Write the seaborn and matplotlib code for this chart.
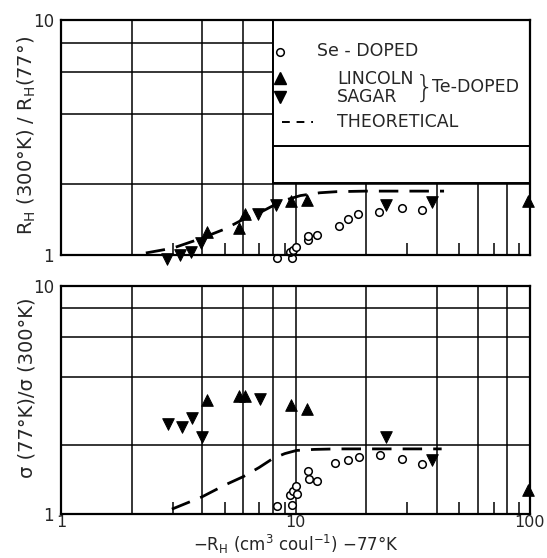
import numpy as np
import pandas as pd
import matplotlib
matplotlib.use("Agg")
import matplotlib.pyplot as plt
from matplotlib.patches import Rectangle
import seaborn as sns

# ---------------- data ----------------
se_x_top = [8.37, 9.63, 9.5, 9.77, 10.05, 11.3, 11.3, 12.4, 15.3, 16.8, 18.5, 22.8, 28.4, 34.5]
se_y_top = [0.97, 0.97, 1.03, 1.05, 1.08, 1.16, 1.20, 1.22, 1.33, 1.42, 1.49, 1.53, 1.58, 1.56]
se_x_bot = [8.37, 9.63, 9.5, 9.77, 10.1, 10.05, 11.3, 11.4, 12.4, 14.8, 16.7, 18.6, 22.9, 28.5, 34.7]
se_y_bot = [1.08, 1.09, 1.21, 1.26, 1.23, 1.33, 1.54, 1.43, 1.39, 1.68, 1.73, 1.77, 1.81, 1.74, 1.66]

lincoln_x = [4.18, 5.76, 6.09, 9.54, 11.2, 98.0]
lincoln_y_top = [1.25, 1.30, 1.50, 1.69, 1.71, 1.69]
lincoln_y_bot = [3.17, 3.30, 3.30, 3.02, 2.89, 1.27]

sagar_x_top = [2.82, 3.22, 3.57, 3.95, 6.94, 8.26, 24.3, 38.1]
sagar_y_top = [0.96, 1.00, 1.03, 1.13, 1.50, 1.64, 1.64, 1.68]
sagar_x_bot = [2.87, 3.27, 3.63, 3.98, 7.06, 24.3, 38.3]
sagar_y_bot = [2.49, 2.40, 2.64, 2.18, 3.20, 2.17, 1.73]

theory_x_top = [2.3, 3.0, 3.9, 5.0, 6.0, 7.0, 8.2, 9.0, 10.5, 12.7, 15, 20, 30, 43]
theory_y_top = [1.02, 1.07, 1.17, 1.29, 1.42, 1.51, 1.64, 1.71, 1.79, 1.84, 1.86, 1.87, 1.87, 1.87]
theory_x_bot = [2.97, 4.0, 5.0, 6.0, 7.0, 8.0, 9.0, 10.1, 12, 15, 25, 42]
theory_y_bot = [1.05, 1.19, 1.34, 1.46, 1.60, 1.75, 1.84, 1.90, 1.92, 1.93, 1.93, 1.93]

x_grid = [2, 4, 6, 8, 10, 20, 40, 60, 80]
y_grid = [2, 4, 6, 8]
x_minor = [3, 5, 7, 9, 30, 50, 70, 90]
x_ticks = [1, 10, 100]
x_ticklabels = ["1", "10", "100"]
y_ticks = [1, 10]
y_ticklabels = ["1", "10"]

# ---------------- style ----------------
sns.set_theme(style="white")
plt.rcParams['font.family'] = ['DejaVu Sans']
plt.rcParams['mathtext.default'] = 'regular'

fig = plt.figure(figsize=(5.47, 5.58), dpi=100)
ax_top = fig.add_axes([61/547, 1-255/558, 469/547, 235/558])
ax_bot = fig.add_axes([61/547, 1-514/558, 469/547, 228/558])

FS = 12.5
tri = 70
circ = 30


def setup(ax, show_xlabels):
    ax.set_xscale('log')
    ax.set_yscale('log')
    ax.set_xlim(1, 100)
    ax.set_ylim(1, 10)
    for g in x_grid:
        ax.axvline(g, color='black', lw=1.1, zorder=1)
    for g in y_grid:
        ax.axhline(g, color='black', lw=1.1, zorder=1)
    for s in ax.spines.values():
        s.set_color('black')
        s.set_linewidth(1.6)
        s.set_zorder(6)
    ax.set_xticks(x_ticks)
    ax.set_xticks(x_minor, minor=True)
    ax.set_yticks(y_ticks)
    ax.set_yticks([], minor=True)
    if show_xlabels:
        ax.set_xticklabels(x_ticklabels, fontsize=11.5)
    else:
        ax.set_xticklabels([])
    ax.set_xticklabels([], minor=True)
    ax.set_yticklabels(y_ticklabels, fontsize=12)
    ax.tick_params(axis='y', which='major', length=0, pad=5)
    ax.tick_params(axis='x', which='major', length=0, pad=1)
    ax.tick_params(axis='x', which='minor', direction='in', length=9,
                   width=1.1, color='black', bottom=True, top=False)


def draw(ax, se_x, se_y, l_x, l_y, s_x, s_y, t_x, t_y):
    df_se = pd.DataFrame({'x': se_x, 'y': se_y})
    df_l = pd.DataFrame({'x': l_x, 'y': l_y})
    df_s = pd.DataFrame({'x': s_x, 'y': s_y})
    df_t = pd.DataFrame({'x': t_x, 'y': t_y})
    sns.lineplot(data=df_t, x='x', y='y', ax=ax, color='black', lw=2.0,
                 dashes=False, sort=False, zorder=4)
    ax.lines[-1].set_dashes([7, 4])
    sns.scatterplot(data=df_se, x='x', y='y', ax=ax, marker='o', s=circ,
                    facecolor='white', edgecolor='black', linewidth=1.1,
                    zorder=5, clip_on=False)
    sns.scatterplot(data=df_l, x='x', y='y', ax=ax, marker='^', s=tri,
                    color='black', edgecolor='black', zorder=5, clip_on=False)
    sns.scatterplot(data=df_s, x='x', y='y', ax=ax, marker='v', s=tri,
                    color='black', edgecolor='black', zorder=5, clip_on=False)
    ax.set_xlabel('')
    ax.set_ylabel('')


setup(ax_top, False)
setup(ax_bot, True)
draw(ax_top, se_x_top, se_y_top, lincoln_x, lincoln_y_top,
     sagar_x_top, sagar_y_top, theory_x_top, theory_y_top)
draw(ax_bot, se_x_bot, se_y_bot, lincoln_x, lincoln_y_bot,
     sagar_x_bot, sagar_y_bot, theory_x_bot, theory_y_bot)

# white panel with legend in the top axes
ax_top.add_patch(Rectangle((0.452, 0.306), 0.548, 0.694, transform=ax_top.transAxes,
                           facecolor='white', edgecolor='black', lw=1.4, zorder=3))
ax_top.add_patch(Rectangle((0.452, 0.464), 0.548, 0.536, transform=ax_top.transAxes,
                           facecolor='white', edgecolor='black', lw=1.4, zorder=3))
T = ax_top.transAxes
ax_top.plot([0.467], [0.862], transform=T, marker='o', ms=5.5, mfc='white',
            mec='black', mew=1.1, ls='', zorder=7)
ax_top.text(0.545, 0.866, "Se - DOPED", transform=T, fontsize=FS, va='center', zorder=7)
ax_top.plot([0.467], [0.752], transform=T, marker='^', ms=8, color='black', ls='', zorder=7)
ax_top.plot([0.467], [0.674], transform=T, marker='v', ms=8, color='black', ls='', zorder=7)
ax_top.text(0.588, 0.750, "LINCOLN", transform=T, fontsize=FS, va='center', zorder=7)
ax_top.text(0.588, 0.672, "SAGAR", transform=T, fontsize=FS, va='center', zorder=7)
ax_top.text(0.755, 0.708, "}", transform=T, fontsize=22, va='center', zorder=7,
            fontweight='light')
ax_top.text(0.792, 0.716, "Te-DOPED", transform=T, fontsize=FS, va='center', zorder=7)
ax_top.plot([0.471, 0.537], [0.566, 0.566], transform=T, color='black', lw=1.4,
            dashes=[4, 3.5], zorder=7)
ax_top.text(0.588, 0.566, "THEORETICAL", transform=T, fontsize=FS, va='center', zorder=7)

# axis labels
fig.text(27/547, 1-135/558, r"R$_{H}$ (300°K) / R$_{H}$(77°)", rotation=90,
         ha='center', va='center', fontsize=14)
fig.text(27/547, 1-388/558, "σ (77°K)/σ (300°K)", rotation=90,
         ha='center', va='center', fontsize=14)
fig.text(296/547, 1.5/558, r"$-$R$_{H}$ (cm$^{3}$ coul$^{-1}$) $-$77°K",
         ha='center', va='bottom', fontsize=12)

fig.savefig("out.png", dpi=100)
